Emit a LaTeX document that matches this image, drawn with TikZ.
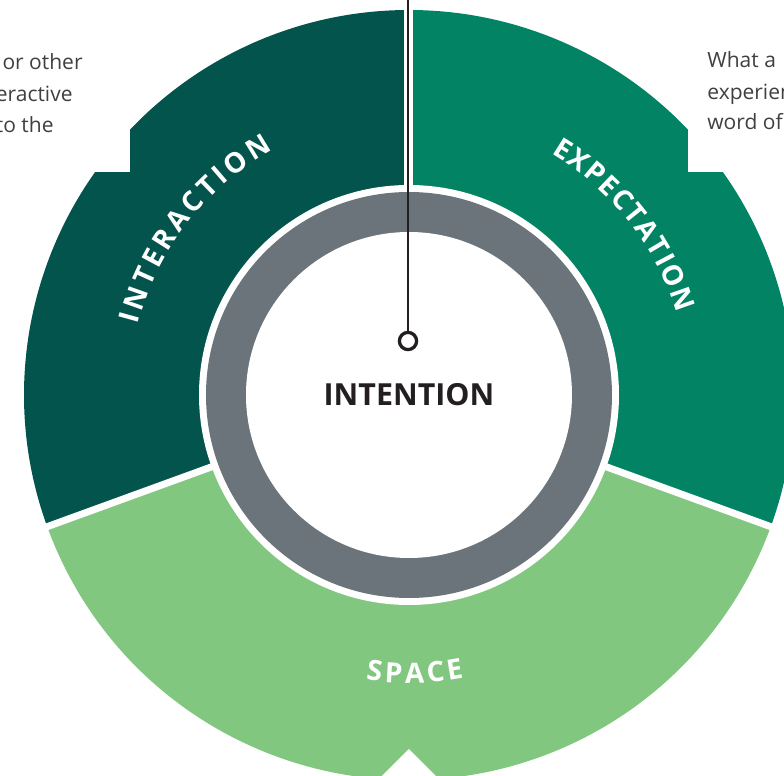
\documentclass[tikz,border=0pt]{standalone}
\usepackage{fontspec}
\setmainfont{Open Sans}
\usetikzlibrary{decorations.text}

\definecolor{interactgreen}{HTML}{02544D}
\definecolor{expectgreen}{HTML}{018364}
\definecolor{spacegreen}{HTML}{82C780}
\definecolor{ringgrey}{HTML}{6A747A}
\definecolor{notegrey}{HTML}{404041}
\definecolor{inkblack}{HTML}{231F20}

\newcommand{\sectorfont}{\fontsize{14}{14}\selectfont\bfseries}

\begin{document}
\begin{tikzpicture}[x=0.5pt,y=0.5pt,
    divider/.style={white, line width=3.5pt},
    note/.style={text=notegrey, font=\fontsize{10.5}{16}\selectfont, inner sep=0pt},
    sectorlabel/.style={decorate, decoration={text along path, text align=fit to path, text color=white}}]
  \useasboundingbox (-409,-381) rectangle (375,395);
  \clip (-409,-381) rectangle (375,395);
  %the three outer sectors
  \fill[interactgreen] (0,0) -- (90:385) arc[start angle=90, end angle=200, radius=385] -- cycle;
  \fill[expectgreen] (0,0) -- (-20:385) arc[start angle=-20, end angle=90, radius=385] -- cycle;
  \fill[spacegreen] (0,0) -- (200:385) arc[start angle=200, end angle=340, radius=385] -- cycle;
  %gaps between the sectors
  \draw[divider, line width=4.5pt] (0,0) -- (90:400);
  \draw[divider] (0,0) -- (200:400);
  \draw[divider] (0,0) -- (340:400);
  %notches cut into the rim
  \fill[white] (-279,223) rectangle (-420,400);
  \fill[white] (279,223) rectangle (420,400);
  \fill[white] (0,-354) -- (80,-434) -- (-80,-434) -- cycle;
  %grey ring round the white core
  \fill[white] (0,0) circle[radius=210];
  \fill[ringgrey] (0,0) circle[radius=203];
  \node[circle, fill=white, minimum size=163pt, inner sep=0pt, text=inkblack, font=\fontsize{15.2}{18}\selectfont\bfseries] (core) {INTENTION};
  %pin line from the top
  \node[circle, draw=inkblack, line width=1.65pt, fill=white, minimum size=8.6pt, inner sep=0pt] (pin) at (-1,54) {};
  \coordinate (lead) at (-1,400);
  \draw[inkblack, line width=1pt] (lead) -- (pin);
  %curved sector labels
  \path[sectorlabel, decoration={text={|\sectorfont|INTERACTION}}] (165.5:280) arc[start angle=165.5, end angle=119, radius=280];
  \path[sectorlabel, decoration={text={|\sectorfont|EXPECTATION}}] (59.5:280) arc[start angle=59.5, end angle=17, radius=280];
  \path[sectorlabel, decoration={text={|\sectorfont|SPACE}}] (261.4:288) arc[start angle=261.4, end angle=281, radius=288];
  %side notes
  \node[note, anchor=base east] (notel1) at (-326,325) {or other};
  \node[note, anchor=base east] (notel2) at (-336,293) {eractive};
  \node[note, anchor=base east] (notel3) at (-355,262) {to the};
  \node[note, anchor=base west] (noter1) at (298,327) {What a};
  \node[note, anchor=base west] (noter2) at (298,295) {experien};
  \node[note, anchor=base west] (noter3) at (298,265) {word of};
\end{tikzpicture}
\end{document}
